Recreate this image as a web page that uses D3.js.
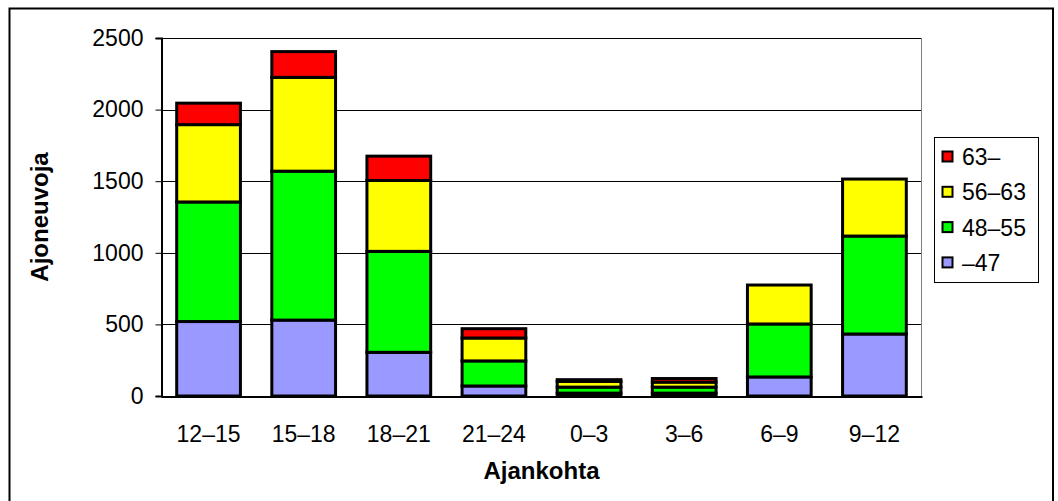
<!DOCTYPE html>
<html>
<head>
<meta charset="utf-8">
<script src="https://cdn.jsdelivr.net/npm/d3@7/dist/d3.min.js"></script>
<style>
  html, body { margin: 0; padding: 0; background: #fff; }
  svg { display: block; font-family: "Liberation Sans", Arial, sans-serif; }
</style>
</head>
<body>
<svg id="chart" width="1058" height="501"></svg>
<script>
// Time slots (hours) and vehicle counts per speed class (km/h)
const categories = ["12–15", "15–18", "18–21", "21–24", "0–3", "3–6", "6–9", "9–12"];
const seriesNames = ["–47", "48–55", "56–63", "63–"];
const speedUpTo47 = [520, 530, 305, 70, 20, 20, 133, 433];
const speed48to55 = [835, 1040, 705, 175, 42, 42, 370, 684];
const speed56to63 = [540, 655, 495, 160, 40, 35, 272, 398];
const speedOver63 = [150, 180, 170, 65, 12, 25, 0, 0];
const yTicks = [0, 500, 1000, 1500, 2000, 2500];
const colors = ["#9999FF", "#00FF00", "#FFFF00", "#FF0000"];

const FONT = "Liberation Sans, Arial, sans-serif";
const FS = 23;

const rows = categories.map((c, i) => ({
  cat: c,
  "–47": speedUpTo47[i],
  "48–55": speed48to55[i],
  "56–63": speed56to63[i],
  "63–": speedOver63[i]
}));

const svg = d3.select("#chart");
const plot = { left: 161, top: 38, right: 922, bottom: 396 };

// Outer chart frame
svg.append("rect")
  .attr("x", 9.5).attr("y", 8.5)
  .attr("width", 1043.5).attr("height", 520)
  .attr("fill", "#fff").attr("stroke", "#000").attr("stroke-width", 2);

const x = d3.scaleBand().domain(categories).range([plot.left, plot.right]).paddingInner(0.33).paddingOuter(0.165);
const y = d3.scaleLinear().domain([0, 2500]).range([plot.bottom, plot.top]);

// Gridlines
svg.append("g").selectAll("line").data(yTicks.filter(t => t > 0 && t < 2500)).join("line")
  .attr("x1", plot.left).attr("x2", plot.right)
  .attr("y1", d => Math.round(y(d)) + 0.5).attr("y2", d => Math.round(y(d)) + 0.5)
  .attr("stroke", "#000").attr("stroke-width", 1);

// Plot-area frame
svg.append("line").attr("x1", plot.left).attr("x2", plot.right).attr("y1", plot.top + 0.5).attr("y2", plot.top + 0.5).attr("stroke", "#000");
svg.append("line").attr("x1", plot.right - 0.5).attr("x2", plot.right - 0.5).attr("y1", plot.top).attr("y2", plot.bottom).attr("stroke", "#808080");

// Stacked bars
const stack = d3.stack().keys(seriesNames)(rows);
svg.append("g").selectAll("g").data(stack).join("g")
  .attr("fill", (d, i) => colors[i])
  .selectAll("rect").data(d => d.filter(s => s[1] - s[0] > 0)).join("rect")
  .attr("x", d => x(d.data.cat))
  .attr("width", x.bandwidth())
  .attr("y", d => y(d[1]))
  .attr("height", d => y(d[0]) - y(d[1]))
  .attr("stroke", "#000").attr("stroke-width", 3);

// Y axis
const yAxis = svg.append("g").attr("transform", `translate(${plot.left + 0.5},0)`)
  .call(d3.axisLeft(y).tickValues(yTicks).tickFormat(d3.format("d")).tickSize(6).tickPadding(12));
yAxis.attr("font-size", FS).attr("font-family", FONT);
yAxis.select(".domain").attr("stroke", "#000").attr("stroke-width", 2);
yAxis.selectAll(".tick line").attr("stroke", "#000");
yAxis.selectAll("text").attr("fill", "#000");

// X axis
const xAxis = svg.append("g").attr("transform", `translate(0,${plot.bottom + 0.5})`)
  .call(d3.axisBottom(x).tickSize(0).tickPadding(29));
xAxis.attr("font-size", FS).attr("font-family", FONT);
xAxis.select(".domain").attr("stroke", "#000").attr("stroke-width", 2);
xAxis.selectAll("text").attr("fill", "#000");

// Axis titles
svg.append("text").attr("x", (plot.left + plot.right) / 2).attr("y", 479)
  .attr("text-anchor", "middle").attr("font-size", 24).attr("font-weight", "bold")
  .attr("font-family", FONT).text("Ajankohta");
svg.append("text").attr("transform", `translate(48,${(plot.top + plot.bottom) / 2}) rotate(-90)`)
  .attr("text-anchor", "middle").attr("font-size", 24).attr("font-weight", "bold")
  .attr("font-family", FONT).text("Ajoneuvoja");

// Legend (highest class first)
const legend = svg.append("g");
legend.append("rect").attr("x", 934.5).attr("y", 137.5).attr("width", 104).attr("height", 145)
  .attr("fill", "#fff").attr("stroke", "#000");
const legendOrder = seriesNames.map((n, i) => ({ name: n, color: colors[i] })).reverse();
const li = legend.selectAll("g").data(legendOrder).join("g")
  .attr("transform", (d, i) => `translate(942,${157 + i * 35.3})`);
li.append("rect").attr("x", 0.5).attr("y", -5.5).attr("width", 10).attr("height", 10)
  .attr("fill", d => d.color).attr("stroke", "#000").attr("stroke-width", 2);
li.append("text").attr("x", 20).attr("y", 8).attr("font-size", FS)
  .attr("font-family", FONT).text(d => d.name);
</script>
</body>
</html>
